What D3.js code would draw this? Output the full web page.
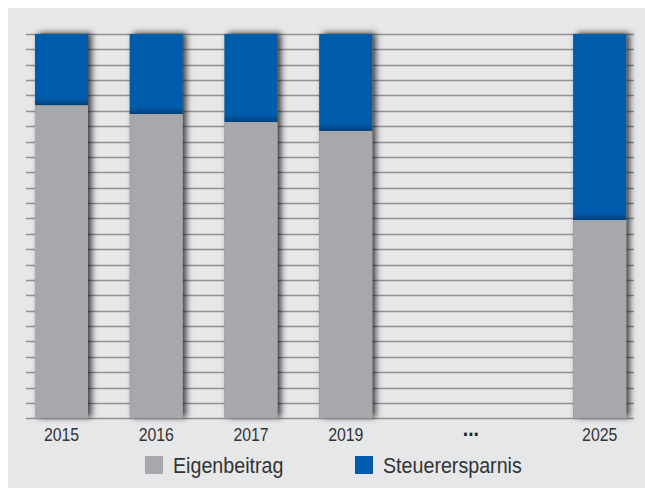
<!DOCTYPE html>
<html><head><meta charset="utf-8">
<script src="https://cdn.jsdelivr.net/npm/d3@7/dist/d3.min.js"></script>
<style>
html,body{margin:0;padding:0;background:#fff;}
svg{display:block;}
</style></head>
<body>
<svg id="chart" width="645" height="488"></svg>
<script>
const categories = ["2015", "2016", "2017", "2019", "2025"];
const eigenbeitrag = [81.5, 79.2, 77.1, 74.8, 51.6];
const steuerersparnis = [18.5, 20.8, 22.9, 25.2, 48.4];
const seriesNames = ["Eigenbeitrag", "Steuerersparnis"];
const gapLabel = "...";

const colors = {Eigenbeitrag: "#a7a8ab", Steuerersparnis: "#005bab"};
const font = "'Liberation Sans',Arial,sans-serif";
const narrow = 0.88;

const svg = d3.select("#chart");
const W = 645, H = 488;

svg.append("rect").attr("x", 8).attr("y", 8).attr("width", W - 8).attr("height", H - 8).attr("fill", "#e6e7e9");

const defs = svg.append("defs");
const f = defs.append("filter").attr("id", "shadow").attr("x", "-30%").attr("y", "-10%").attr("width", "160%").attr("height", "120%");
f.append("feDropShadow").attr("dx", 3.5).attr("dy", -1).attr("stdDeviation", 3.2).attr("flood-color", "#000").attr("flood-opacity", 0.75);

const g1 = defs.append("linearGradient").attr("id", "innerShade").attr("x1", 0).attr("y1", 0).attr("x2", 0).attr("y2", 1);
g1.append("stop").attr("offset", "0%").attr("stop-color", "#000").attr("stop-opacity", 0);
g1.append("stop").attr("offset", "100%").attr("stop-color", "#000").attr("stop-opacity", 0.3);

const y = d3.scaleLinear().domain([0, 100]).range([418.3, 34]);
const slot = {"2015": 0, "2016": 1, "2017": 2, "2019": 3, "...": 4.32, "2025": 5.68};
const x = d3.scaleLinear().domain([0, 5.68]).range([61.5, 599.7]);
const barW = 53;

const gridTicks = d3.range(0, 100.001, 4);
svg.append("g").selectAll("line").data(gridTicks).join("line")
  .attr("x1", 26).attr("x2", 634)
  .attr("y1", d => Math.round(y(d)) + 0.5).attr("y2", d => Math.round(y(d)) + 0.5)
  .attr("stroke", "#909193").attr("stroke-width", 1.4);

const data = categories.map((c, i) => ({cat: c, Eigenbeitrag: eigenbeitrag[i], Steuerersparnis: steuerersparnis[i]}));
const stack = d3.stack().keys(seriesNames)(data);

const bars = svg.append("g");
bars.selectAll("rect.sh").data(data).join("rect").attr("class", "sh")
  .attr("x", d => x(slot[d.cat]) - barW / 2).attr("width", barW)
  .attr("y", d => y(d.Eigenbeitrag + d.Steuerersparnis))
  .attr("height", d => y(0) - y(d.Eigenbeitrag + d.Steuerersparnis))
  .attr("fill", "#777").attr("filter", "url(#shadow)");

stack.forEach(s => {
  bars.append("g").selectAll("rect").data(s).join("rect")
    .attr("x", d => x(slot[d.data.cat]) - barW / 2).attr("width", barW)
    .attr("y", d => y(d[1])).attr("height", d => y(d[0]) - y(d[1]))
    .attr("fill", colors[s.key]);
});
bars.append("g").selectAll("rect").data(stack[1]).join("rect")
  .attr("x", d => x(slot[d.data.cat]) - barW / 2).attr("width", barW)
  .attr("y", d => y(d[0]) - 7).attr("height", 7)
  .attr("fill", "url(#innerShade)");

function narrowText(sel, px, py) {
  return sel.attr("transform", `translate(${px},${py}) scale(${narrow},1)`);
}

svg.append("g").selectAll("text").data(categories).join("text")
  .call(s => s.attr("transform", d => `translate(${x(slot[d])},441) scale(${narrow},1)`))
  .attr("text-anchor", "middle").attr("font-family", font).attr("font-size", 18)
  .attr("fill", "#333").text(d => d);
svg.append("text").call(narrowText, x(slot[gapLabel]), 436)
  .attr("text-anchor", "middle").attr("font-family", font).attr("font-size", 22).attr("font-weight", "bold")
  .attr("fill", "#222").text(gapLabel);

const legendX = [145, 355];
const lg = svg.append("g").selectAll("g").data(seriesNames).join("g")
  .attr("transform", (d, i) => `translate(${legendX[i]},456)`);
lg.append("rect").attr("width", 18).attr("height", 18).attr("fill", d => colors[d]);
lg.append("text").attr("transform", `translate(28,17) scale(0.915,1)`)
  .attr("font-family", font).attr("font-size", 21.5)
  .attr("fill", "#333").text(d => d);
</script>
</body></html>
